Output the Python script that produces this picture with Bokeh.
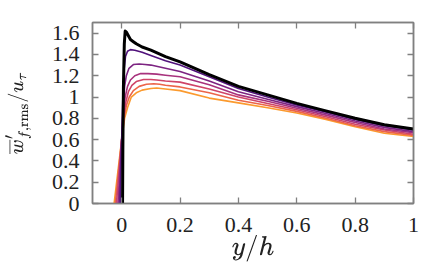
from bokeh.plotting import figure
from bokeh.models import LinearAxis, FixedTicker, Range1d
from bokeh.embed import file_html
from bokeh.resources import INLINE

# ---- data ----
x_outer = [0.15, 0.2, 0.3, 0.4, 0.5, 0.6, 0.7, 0.8, 0.9, 1.0]

x_near_0 = [0.003, 0.004, 0.006, 0.009, 0.012, 0.016, 0.022, 0.03, 0.04, 0.05, 0.07, 0.1]
y_near_0 = [0.0, 0.5, 1.1, 1.5, 1.62, 1.61, 1.58, 1.54, 1.52, 1.50, 1.47, 1.44]
y_outer_0 = [1.38, 1.33, 1.21, 1.10, 1.02, 0.94, 0.87, 0.80, 0.74, 0.70]

x_near_1 = [-0.005, 0.0, 0.004, 0.008, 0.013, 0.02, 0.03, 0.045, 0.07, 0.1]
y_near_1 = [0.0, 0.6, 1.0, 1.25, 1.38, 1.43, 1.445, 1.44, 1.42, 1.39]
y_outer_1 = [1.34, 1.30, 1.19, 1.08, 1.00, 0.925, 0.86, 0.79, 0.73, 0.69]

x_near_2 = [-0.009, 0.0, 0.005, 0.01, 0.016, 0.025, 0.04, 0.06, 0.08, 0.1]
y_near_2 = [0.0, 0.6, 0.9, 1.1, 1.2, 1.27, 1.305, 1.31, 1.305, 1.30]
y_outer_2 = [1.27, 1.24, 1.15, 1.05, 0.98, 0.91, 0.845, 0.775, 0.715, 0.675]

x_near_3 = [-0.013, 0.0, 0.006, 0.012, 0.02, 0.03, 0.045, 0.065, 0.09, 0.12]
y_near_3 = [0.0, 0.6, 0.85, 1.0, 1.1, 1.16, 1.2, 1.22, 1.22, 1.215]
y_outer_3 = [1.205, 1.19, 1.115, 1.02, 0.96, 0.895, 0.83, 0.76, 0.70, 0.665]

x_near_4 = [-0.018, 0.0, 0.007, 0.014, 0.023, 0.035, 0.05, 0.075, 0.1, 0.12]
y_near_4 = [0.0, 0.6, 0.82, 0.95, 1.05, 1.11, 1.145, 1.165, 1.165, 1.16]
y_outer_4 = [1.15, 1.14, 1.075, 1.00, 0.94, 0.88, 0.815, 0.745, 0.69, 0.65]

x_near_5 = [-0.022, 0.0, 0.008, 0.016, 0.026, 0.04, 0.06, 0.085, 0.11, 0.13]
y_near_5 = [0.0, 0.6, 0.8, 0.92, 1.0, 1.06, 1.1, 1.12, 1.125, 1.12]
y_outer_5 = [1.11, 1.095, 1.04, 0.97, 0.92, 0.865, 0.80, 0.73, 0.675, 0.64]

x_near_6 = [-0.026, 0.0, 0.01, 0.02, 0.033, 0.05, 0.07, 0.1, 0.12]
y_near_6 = [0.0, 0.6, 0.8, 0.9, 1.0, 1.04, 1.065, 1.08, 1.085]
y_outer_6 = [1.075, 1.06, 0.99, 0.945, 0.90, 0.85, 0.79, 0.72, 0.66, 0.63]

colors = ["#000000", "#50127b", "#7d2482", "#a8327d", "#cf4468", "#ec6548", "#fb9a2e"]
widths = [3.0, 1.6, 1.6, 1.6, 1.6, 1.6, 1.6]

x_ticks = [0, 0.2, 0.4, 0.6, 0.8, 1]
x_tick_labels = ["0", "0.2", "0.4", "0.6", "0.8", "1"]
y_ticks = [0, 0.2, 0.4, 0.6, 0.8, 1, 1.2, 1.4, 1.6]
y_tick_labels = ["0", "0.2", "0.4", "0.6", "0.8", "1", "1.2", "1.4", "1.6"]

near_x = [x_near_0, x_near_1, x_near_2, x_near_3, x_near_4, x_near_5, x_near_6]
near_y = [y_near_0, y_near_1, y_near_2, y_near_3, y_near_4, y_near_5, y_near_6]
outer_y = [y_outer_0, y_outer_1, y_outer_2, y_outer_3, y_outer_4, y_outer_5, y_outer_6]

FONT = "Liberation Serif"
FRAME = "#808080"

p = figure(width=425, height=264, output_backend="svg", toolbar_location=None,
           x_range=Range1d(-0.1, 1.0), y_range=Range1d(0, 1.7),
           min_border_left=92, min_border_right=12, min_border_top=22, min_border_bottom=60)
p.grid.visible = False
p.outline_line_color = FRAME
p.outline_line_width = 1.5
p.background_fill_color = "white"
p.border_fill_color = "white"

for i in reversed(range(7)):
    xs = near_x[i] + x_outer
    ys = near_y[i] + outer_y[i]
    p.line(xs, ys, line_color=colors[i], line_width=widths[i], line_join="round")

def style_axis(ax, ticks, labels, show_labels):
    ax.ticker = FixedTicker(ticks=ticks)
    ax.major_label_overrides = {t: l for t, l in zip(ticks, labels)}
    ax.minor_tick_line_color = None
    ax.major_tick_in = 6
    ax.major_tick_out = 0
    ax.major_tick_line_color = FRAME
    ax.major_tick_line_width = 1.3
    ax.axis_line_color = FRAME
    ax.axis_line_width = 1.5
    ax.major_label_text_font = FONT
    ax.major_label_text_color = "#222222"
    if show_labels:
        ax.major_label_text_font_size = "22px"
    else:
        ax.major_label_text_font_size = "1px"
        ax.major_label_text_color = None
        ax.major_label_standoff = 0

bottom = p.xaxis[0]
left = p.yaxis[0]
style_axis(bottom, x_ticks, x_tick_labels, True)
style_axis(left, y_ticks, y_tick_labels, True)
bottom.major_label_standoff = 14
left.major_label_standoff = 13

top = LinearAxis()
right = LinearAxis()
style_axis(top, x_ticks, x_tick_labels, False)
style_axis(right, y_ticks, y_tick_labels, False)
p.add_layout(top, "above")
p.add_layout(right, "right")

bottom.axis_label = r"$$y/h$$"
left.axis_label = r"$$\overline{w}'_{f,\mathrm{rms}}/u_\tau$$"
bottom.axis_label_text_font_size = "22px"
left.axis_label_text_font_size = "17px"
for ax in (bottom, left):
    ax.axis_label_text_color = "#222222"
bottom.axis_label_standoff = 0
left.axis_label_standoff = 18

open("out.html", "w").write(file_html(p, INLINE))
